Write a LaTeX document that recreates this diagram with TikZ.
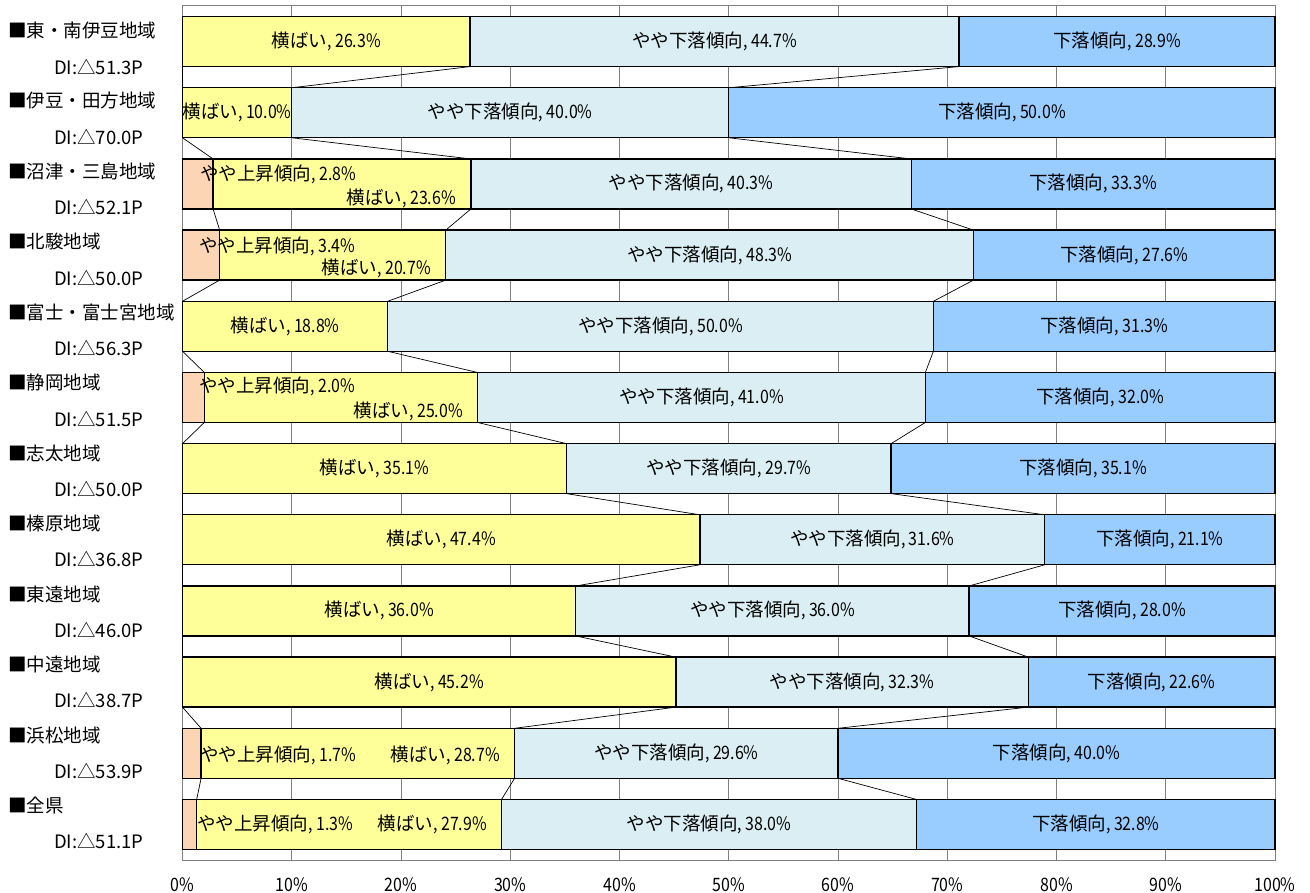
\documentclass[tikz,border=0pt]{standalone}
\usepackage{fontspec}
\setmainfont{Noto Sans CJK JP}
\newfontfamily\lat[FakeStretch=0.86]{Noto Sans CJK JP}
\definecolor{upc}{HTML}{FCD5B4}
\definecolor{flatc}{HTML}{FFFF99}
\definecolor{sdownc}{HTML}{DAEEF3}
\definecolor{downc}{HTML}{99CCFF}
\definecolor{gridc}{HTML}{808080}
\begin{document}
\begin{tikzpicture}[x=1pt,y=-1pt,
  font=\fontsize{18.5}{20}\selectfont,
  seg/.style={draw=black,line width=1.4pt},
  gridline/.style={draw=gridc,line width=1pt},
  serline/.style={draw=black,line width=0.7pt},
  lab/.style={inner sep=0pt,text=black},
  catlab/.style={inner sep=0pt,anchor=west},
  axlab/.style={inner sep=0pt,anchor=center,font=\fontsize{18.5}{20}\lat}]
\useasboundingbox (0,0) rectangle (1310,893);
\fill[white] (0,0) rectangle (1310,893);
% plot area
\coordinate (pa-nw) at (182.5,6);
\coordinate (pa-se) at (1275,860);
\foreach \k in {1,...,9}{
  \coordinate (g-\k-t) at ({182.5+109.25*\k},6);
  \coordinate (g-\k-b) at ({182.5+109.25*\k},860);
  \draw[gridline] (g-\k-t) -- (g-\k-b);
}
\draw[gridline] (pa-nw) rectangle (pa-se);
% bars
\foreach \i/\a/\b/\c/\d/\nm/\di in {
 1/0/26.3/44.7/28.9/東・南伊豆地域/51.3,
 2/0/10.0/40.0/50.0/伊豆・田方地域/70.0,
 3/2.8/23.6/40.3/33.3/沼津・三島地域/52.1,
 4/3.4/20.7/48.3/27.6/北駿地域/50.0,
 5/0/18.8/50.0/31.3/富士・富士宮地域/56.3,
 6/2.0/25.0/41.0/32.0/静岡地域/51.5,
 7/0/35.1/29.7/35.1/志太地域/50.0,
 8/0/47.4/31.6/21.1/榛原地域/36.8,
 9/0/36.0/36.0/28.0/東遠地域/46.0,
 10/0/45.2/32.3/22.6/中遠地域/38.7,
 11/1.7/28.7/29.6/40.0/浜松地域/53.9,
 12/1.3/27.9/38.0/32.8/全県/51.1}{
  \pgfmathsetmacro\s{\a+\b+\c+\d}
  \pgfmathsetmacro\yt{16.6+71.17*(\i-1)}
  \pgfmathsetmacro\yb{\yt+50}
  \pgfmathsetmacro\ym{\yt+25}
  \pgfmathsetmacro\xa{182.5+(\a/\s)*1092.5}
  \pgfmathsetmacro\xb{182.5+((\a+\b)/\s)*1092.5}
  \pgfmathsetmacro\xc{182.5+((\a+\b+\c)/\s)*1092.5}
  \coordinate (t-\i-0) at (182.5,\yt);
  \coordinate (b-\i-0) at (182.5,\yb);
  \coordinate (t-\i-1) at (\xa,\yt);
  \coordinate (b-\i-1) at (\xa,\yb);
  \coordinate (t-\i-2) at (\xb,\yt);
  \coordinate (b-\i-2) at (\xb,\yb);
  \coordinate (t-\i-3) at (\xc,\yt);
  \coordinate (b-\i-3) at (\xc,\yb);
  \coordinate (t-\i-4) at (1275,\yt);
  \coordinate (b-\i-4) at (1275,\yb);
  \draw[seg,fill=upc] (t-\i-0) rectangle (b-\i-1);
  \draw[seg,fill=flatc] (t-\i-1) rectangle (b-\i-2);
  \draw[seg,fill=sdownc] (t-\i-2) rectangle (b-\i-3);
  \draw[seg,fill=downc] (t-\i-3) rectangle (b-\i-4);
  \pgfmathparse{(\a>0)?1:0}
  \ifnum\pgfmathresult=0
    \node[lab] (lb-\i) at ({(\xa+\xb)/2},\ym) {横ばい{\lat, \b\%}};
  \fi
  \node[lab] (lc-\i) at ({(\xb+\xc)/2},\ym) {やや下落傾向{\lat, \c\%}};
  \node[lab] (ld-\i) at ({(\xc+1275)/2},\ym) {下落傾向{\lat, \d\%}};
  \node[catlab] (cat-\i) at (8,{30.5+70.45*(\i-1)}) {■\nm};
  \node[catlab] (di-\i) at (54,{66.5+70.4*(\i-1)}) {DI:△\di P};
}
% manually placed labels
\node[lab,anchor=west] (la-3) at (200,174) {やや上昇傾向{\lat, 2.8\%}};
\node[lab,anchor=east] (lb-3) at (456,198) {横ばい{\lat, 23.6\%}};
\node[lab,anchor=west] (la-4) at (199,246) {やや上昇傾向{\lat, 3.4\%}};
\node[lab,anchor=east] (lb-4) at (431,268) {横ばい{\lat, 20.7\%}};
\node[lab,anchor=west] (la-6) at (199,386) {やや上昇傾向{\lat, 2.0\%}};
\node[lab,anchor=east] (lb-6) at (463,411) {横ばい{\lat, 25.0\%}};
\node[lab,anchor=west] (la-11) at (200,755) {やや上昇傾向{\lat, 1.7\%}};
\node[lab,anchor=east] (lb-11) at (500,755) {横ばい{\lat, 28.7\%}};
\node[lab,anchor=west] (la-12) at (197,824) {やや上昇傾向{\lat, 1.3\%}};
\node[lab,anchor=east] (lb-12) at (487,824) {横ばい{\lat, 27.9\%}};
% series lines
\foreach \i [evaluate=\i as \j using int(\i+1)] in {1,...,11}{
  \foreach \k in {1,2,3}{
    \draw[serline] (b-\i-\k) -- (t-\j-\k);
  }
}
% axis labels
\foreach \k [evaluate=\k as \p using int(10*\k)] in {0,...,10}{
  \node[axlab] (ax-\k) at ({182.5+109.25*\k},885) {\p\%};
}
\end{tikzpicture}
\end{document}
